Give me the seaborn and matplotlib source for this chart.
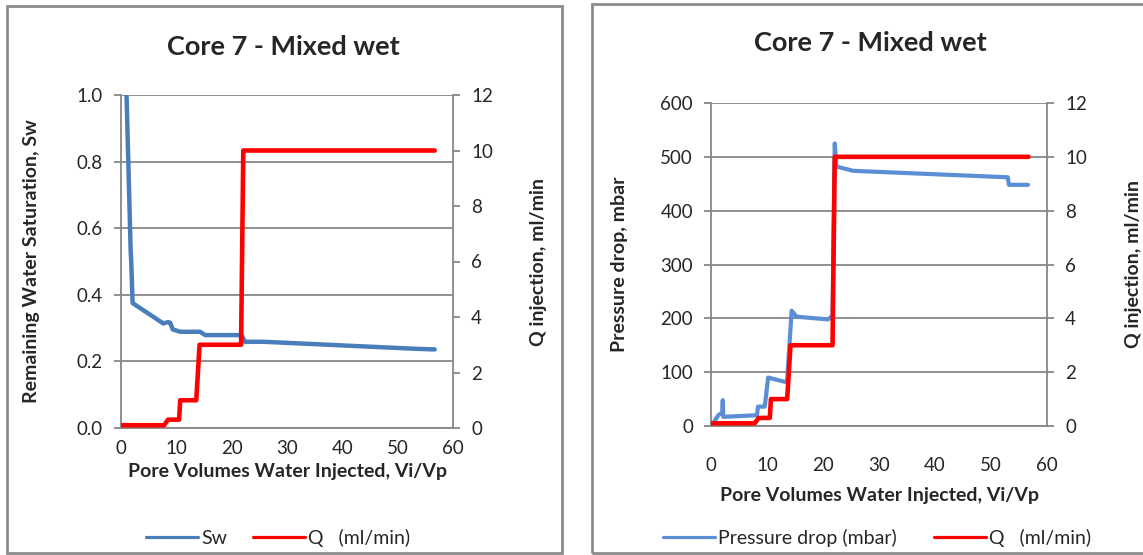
import numpy as np
import pandas as pd
import matplotlib
matplotlib.use('Agg')
import matplotlib.pyplot as plt
from matplotlib.patches import Rectangle
from matplotlib.lines import Line2D
import seaborn as sns

# Core 7 - mixed wet, waterflood data
pv_sw = [1.0, 1.75, 1.85, 2.1, 7.65, 8.5, 8.9, 9.35, 10.7, 14.3, 15.2, 21.8, 22.4, 25.7, 53.0, 56.7]
sw = [1.0, 0.53, 0.50, 0.375, 0.314, 0.318, 0.316, 0.296, 0.289, 0.289, 0.279, 0.279, 0.259, 0.259, 0.238, 0.236]

pv_dp = [0.4, 1.3, 2.0, 2.1, 2.2, 8.2, 8.4, 9.6, 10.2, 13.2, 13.6, 14.4, 15.3, 20.9, 21.7, 22.1, 22.4, 25.4, 53.0, 53.2, 56.6]
dp = [5, 20, 25, 48, 17, 20, 36, 36, 90, 82, 85, 214, 203, 198, 205, 525, 482, 474, 462, 448, 448]

pv_q = [0.1, 7.8, 8.5, 10.5, 10.7, 13.6, 14.2, 21.7, 22.1, 56.7]
q = [0.1, 0.1, 0.3, 0.3, 1.0, 1.0, 3.0, 3.0, 10.0, 10.0]

pv_ticks = [0, 10, 20, 30, 40, 50, 60]

sns.set_style('white')
plt.rcParams['font.family'] = ['Lato', 'DejaVu Sans']

GRAY = '#878787'
RED = '#FF0000'
BLUE_L = '#4A7EBB'
BLUE_R = '#5A8FD6'
LBL = 14
TICK = 13.5

fig = plt.figure(figsize=(11.43, 5.55), dpi=100)


def style_axes(ax, axb, ymax, ystep, ymax2, fmt):
    ax.set_xlim(0, 60)
    ax.set_ylim(0, ymax)
    axb.set_ylim(0, ymax2)
    ax.set_xticks(pv_ticks)
    ax.set_yticks(np.arange(0, ymax + ystep / 2, ystep))
    axb.set_yticks(np.arange(0, ymax2 + 1, 2))
    if fmt:
        ax.set_yticklabels([f'{v:.1f}' for v in np.arange(0, ymax + ystep / 2, ystep)])
    ax.grid(axis='y', color=GRAY, lw=1.3)
    ax.grid(axis='x', visible=False)
    for a in (ax, axb):
        for s in a.spines.values():
            s.set_color(GRAY)
            s.set_linewidth(1.3)
        a.spines['top'].set_visible(False)
        a.tick_params(length=5, width=1.3, color=GRAY, labelsize=TICK, direction='out')
        a.tick_params(axis='y', pad=8)
    axb.tick_params(axis='x', bottom=False, labelbottom=False)
    axb.spines['left'].set_visible(False)
    axb.spines['bottom'].set_visible(False)
    ax.spines['right'].set_visible(False)


# ---- left chart: saturation
ax1 = fig.add_axes([121 / 1143, 1 - 428 / 555, 332 / 1143, 333 / 555])
ax1b = ax1.twinx()
sns.lineplot(x=pv_sw, y=sw, ax=ax1, sort=False, estimator=None, color=BLUE_L, lw=3.2)
sns.lineplot(x=pv_q, y=q, ax=ax1b, sort=False, estimator=None, color=RED, lw=3.3)
style_axes(ax1, ax1b, 1.0, 0.2, 12, True)
ax1.set_xlabel('Pore Volumes Water Injected, Vi/Vp', fontsize=LBL, fontweight='bold')
ax1.set_ylabel('Remaining Water Saturation, Sw', fontsize=LBL, fontweight='bold')
ax1b.set_ylabel('Q injection, ml/min', fontsize=LBL, fontweight='bold', rotation=90)
ax1.xaxis.set_label_coords(0.5, -0.105)
ax1.yaxis.set_label_coords(-0.244, 0.5)
ax1b.yaxis.set_label_coords(1.232, 0.5)

# ---- right chart: pressure drop
ax2 = fig.add_axes([711 / 1143, 1 - 426 / 555, 336 / 1143, 323 / 555])
ax2b = ax2.twinx()
sns.lineplot(x=pv_dp, y=dp, ax=ax2, sort=False, estimator=None, color=BLUE_R, lw=3)
sns.lineplot(x=pv_q, y=q, ax=ax2b, sort=False, estimator=None, color=RED, lw=3.3)
style_axes(ax2, ax2b, 600, 100, 12, False)
# x tick labels sit well below the axis on this chart
ax2.tick_params(axis='x', labelbottom=False)
for v in pv_ticks:
    ax2.text(v, -0.121, str(v), transform=ax2.get_xaxis_transform(), ha='center', va='center',
             fontsize=TICK)
ax2.set_xlabel('Pore Volumes Water Injected, Vi/Vp', fontsize=LBL, fontweight='bold')
ax2.set_ylabel('Pressure drop, mbar', fontsize=LBL, fontweight='bold')
ax2b.set_ylabel('Q injection, ml/min', fontsize=LBL, fontweight='bold', rotation=90)
ax2.xaxis.set_label_coords(0.5, -0.19)
ax2.yaxis.set_label_coords(-0.247, 0.5)
ax2b.yaxis.set_label_coords(1.232, 0.5)

# titles
fig.text(283 / 1143, 1 - 47 / 555, 'Core 7 - Mixed wet', ha='center', va='center',
         fontsize=19.5, fontweight='bold')
fig.text(870 / 1143, 1 - 43 / 555, 'Core 7 - Mixed wet', ha='center', va='center',
         fontsize=19.5, fontweight='bold')

# legends
h_l = [Line2D([], [], color=BLUE_L, lw=2.3), Line2D([], [], color=RED, lw=2.3)]
fig.legend(h_l, ['Sw', 'Q   (ml/min)'], loc='center', bbox_to_anchor=(278 / 1143, 1 - 538 / 555),
           ncol=2, frameon=False, fontsize=14, handlelength=2.7, handletextpad=0.15, columnspacing=1.3)
h_r = [Line2D([], [], color=BLUE_R, lw=2.3), Line2D([], [], color=RED, lw=2.3)]
fig.legend(h_r, ['Pressure drop (mbar)', 'Q   (ml/min)'], loc='center',
           bbox_to_anchor=(877 / 1143, 1 - 538 / 555),
           ncol=2, frameon=False, fontsize=14, handlelength=2.7, handletextpad=0.15, columnspacing=1.9)

# chart borders
fig.add_artist(Rectangle((7 / 1143, 1 - 553 / 555), 555 / 1143, 547 / 555,
                         transform=fig.transFigure, fill=False, ec='#8C8C8C', lw=2))
fig.add_artist(Rectangle((592 / 1143, 1 - 553 / 555), 560 / 1143, 549 / 555,
                         transform=fig.transFigure, fill=False, ec='#8C8C8C', lw=2))

fig.savefig('out.png', dpi=100)
